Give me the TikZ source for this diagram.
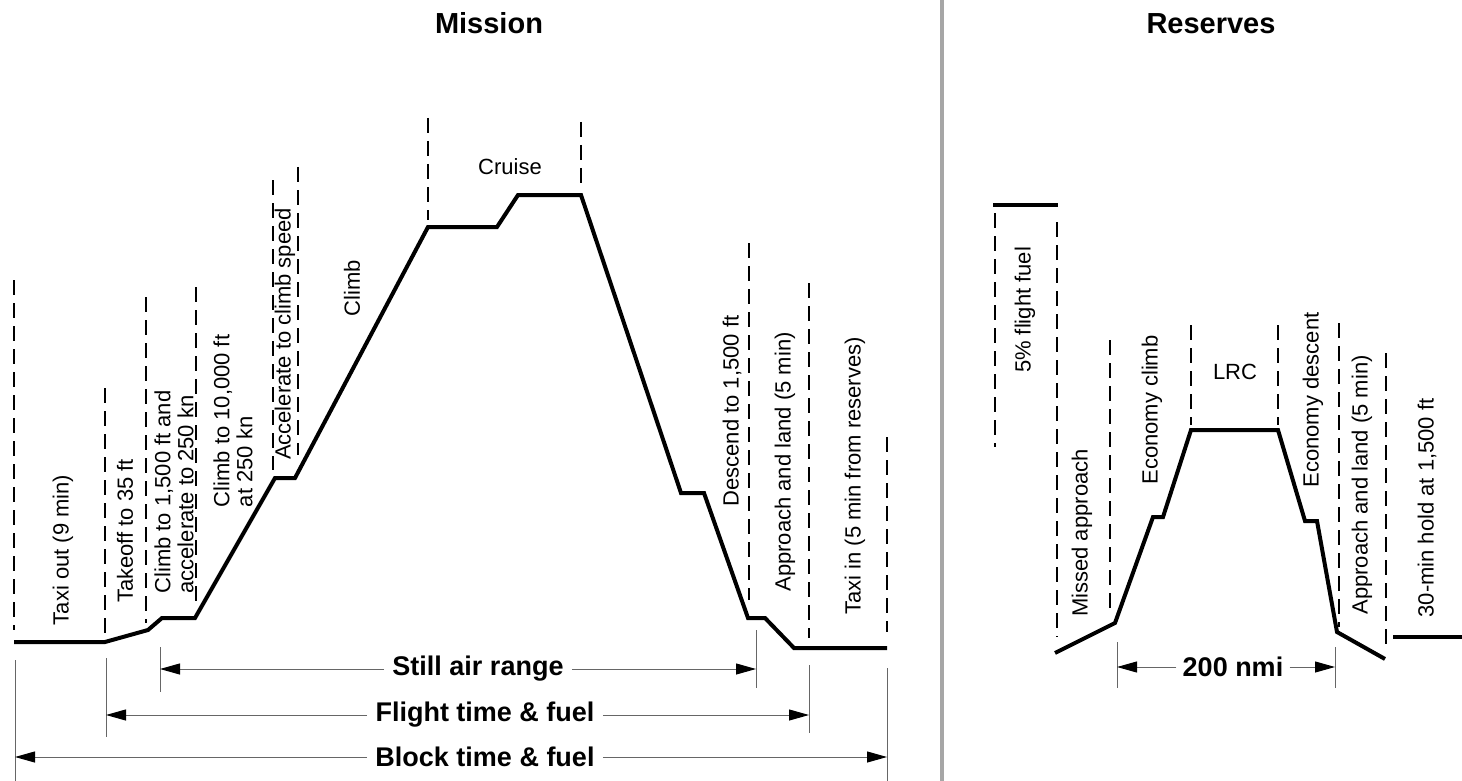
\documentclass[tikz,border=0pt]{standalone}
\usepackage{fontspec}
\setmainfont{Liberation Sans}
\usetikzlibrary{arrows.meta}

\begin{document}
\begin{tikzpicture}[x=0.5pt, y=-0.5pt,
    profile/.style={line width=2pt},
    phaseline/.style={line width=0.7pt, dash pattern=on 7.5pt off 4pt},
    rangetick/.style={line width=0.5pt, black!60},
    rangearrow/.style={line width=0.5pt, black!60, -{Triangle[length=10pt,width=5.5pt,color=black]}},
    lbl/.style={rotate=90, font=\fontsize{11}{11.5}\selectfont, inner sep=1pt},
    hlbl/.style={font=\fontsize{11}{11.5}\selectfont},
    rangelbl/.style={font=\bfseries\fontsize{13.5}{14}\selectfont, inner sep=4pt},
    heading/.style={font=\bfseries\fontsize{14.5}{16}\selectfont}]

      \useasboundingbox (0,0) rectangle (1462,781);

      \node [heading] (mission) at (489, 23) {Mission};
      \node [heading] (reserves) at (1211, 24) {Reserves};
      \draw [line width=2pt, black!35] (942, 0) -- (942, 781);

      % mission profile
      \draw [profile] (14, 642) -- (105, 642) -- (148, 630) -- (162, 618) -- (195, 618)
        -- (275, 478) -- (295, 478) -- (428, 227) -- (497, 227) -- (518, 195) -- (581, 195)
        -- (681, 493) -- (704, 493) -- (748, 618) -- (765, 618) -- (794, 648) -- (887, 648);

      \draw [phaseline] (14, 280) -- (14, 630);
      \draw [phaseline] (105, 388) -- (105, 635);
      \draw [phaseline] (146, 297) -- (146, 623);
      \draw [phaseline] (196, 287) -- (196, 605);
      \draw [phaseline] (273, 180) -- (273, 470);
      \draw [phaseline] (298, 167) -- (298, 455);
      \draw [phaseline] (428, 118) -- (428, 220);
      \draw [phaseline] (581, 122) -- (581, 188);
      \draw [phaseline] (749, 243) -- (749, 600);
      \draw [phaseline] (809, 283) -- (809, 638);
      \draw [phaseline] (887, 437) -- (887, 632);

      \node [lbl] (taxiout) at (63, 550) {Taxi out (9 min)};
      \node [lbl] (takeoff) at (125, 531) {Takeoff to 35 ft};
      \node [lbl, align=left] (climbA) at (174, 492) {Climb to 1,500 ft and\\accelerate to 250 kn};
      \node [lbl, align=left] (climbB) at (233, 421) {Climb to 10,000 ft\\at 250 kn};
      \node [lbl] (accel) at (285, 334) {Accelerate to climb speed};
      \node [lbl] (climb) at (352, 288) {Climb};
      \node [hlbl] (cruise) at (510, 167) {Cruise};
      \node [lbl] (descend) at (732, 411) {Descend to 1,500 ft};
      \node [lbl] (approach) at (785, 462) {Approach and land (5 min)};
      \node [lbl] (taxiin) at (855, 476) {Taxi in (5 min from reserves)};

      % ranges
      \draw [rangetick] (160, 647) -- (160, 692);
      \draw [rangetick] (756, 630) -- (756, 688);
      \draw [rangetick] (106, 658) -- (106, 737);
      \draw [rangetick] (809, 665) -- (809, 733);
      \draw [rangetick] (15, 660) -- (15, 781);
      \draw [rangetick] (887, 668) -- (887, 781);

      \coordinate (sarL) at (160, 669);
      \coordinate (sarR) at (756, 669);
      \coordinate (flightL) at (106, 715);
      \coordinate (flightR) at (809, 715);
      \coordinate (blockL) at (15, 757);
      \coordinate (blockR) at (887, 757);

      \node [rangelbl] (sar) at (478, 669) {Still air range};
      \node [rangelbl] (flight) at (485, 715) {Flight time \& fuel};
      \node [rangelbl] (block) at (485, 757) {Block time \& fuel};

      \draw [rangearrow] (sar.west) -- (sarL);
      \draw [rangearrow] (sar.east) -- (sarR);
      \draw [rangearrow] (flight.west) -- (flightL);
      \draw [rangearrow] (flight.east) -- (flightR);
      \draw [rangearrow] (block.west) -- (blockL);
      \draw [rangearrow] (block.east) -- (blockR);

      % reserves profile
      \draw [profile] (993, 205) -- (1058, 205);
      \draw [profile] (1055, 653) -- (1115, 623) -- (1153, 517) -- (1163, 517) -- (1191, 430)
        -- (1278, 430) -- (1305, 521) -- (1317, 521) -- (1337, 632) -- (1385, 659);
      \draw [profile] (1393, 637) -- (1462, 637);

      \draw [phaseline] (995, 213) -- (995, 447);
      \draw [phaseline] (1057, 222) -- (1057, 637);
      \draw [phaseline] (1110, 340) -- (1110, 613);
      \draw [phaseline] (1191, 325) -- (1191, 425);
      \draw [phaseline] (1278, 325) -- (1278, 425);
      \draw [phaseline] (1339, 323) -- (1339, 627);
      \draw [phaseline] (1386, 353) -- (1386, 647);

      \node [lbl] (fuelpct) at (1025, 310) {5\% flight fuel};
      \node [lbl] (missed) at (1082, 533) {Missed approach};
      \node [lbl] (ecoclimb) at (1152, 410) {Economy climb};
      \node [hlbl] (lrc) at (1235, 372) {LRC};
      \node [lbl] (ecodescent) at (1313, 400) {Economy descent};
      \node [lbl] (resapproach) at (1362, 485) {Approach and land (5 min)};
      \node [lbl] (hold) at (1427, 508) {30-min hold at 1,500 ft};

      \draw [rangetick] (1117, 642) -- (1117, 688);
      \draw [rangetick] (1335, 647) -- (1335, 688);
      \coordinate (nmiL) at (1117, 667);
      \coordinate (nmiR) at (1335, 667);
      \node [rangelbl, inner sep=3pt] (nmi) at (1233, 667) {200 nmi};
      \draw [rangearrow] (nmi.west) -- (nmiL);
      \draw [rangearrow] (nmi.east) -- (nmiR);

    \end{tikzpicture}
\end{document}
